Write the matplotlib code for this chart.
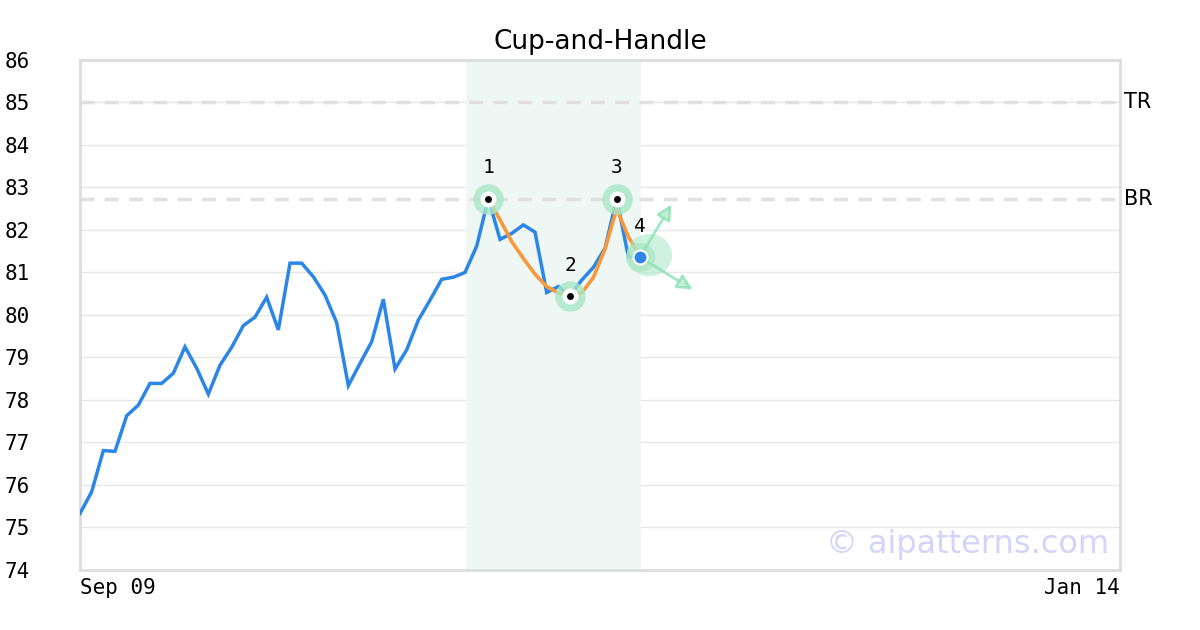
import numpy as np
import matplotlib
matplotlib.use('Agg')
import matplotlib.pyplot as plt
from matplotlib.patches import Ellipse

# daily closes, one per trading session starting Sep 09
closes = [75.33, 75.84, 76.81, 76.79, 77.63, 77.88, 78.39, 78.39, 78.63, 79.25,
          78.75, 78.14, 78.82, 79.24, 79.75, 79.95, 80.42, 79.65, 81.22, 81.22,
          80.90, 80.47, 79.82, 78.34, 78.86, 79.37, 80.37, 78.73, 79.18, 79.88,
          80.35, 80.84, 80.89, 81.00, 81.62, 82.74, 81.78, 81.92, 82.12, 81.95,
          80.53, 80.67, 80.45, 80.82, 81.12, 81.57, 82.74, 81.37, 81.36]

# smoothed cup / handle outline
fit_x = [35, 36, 37, 38, 39, 40, 41, 42, 43, 44, 45, 46, 47, 47.7]
fit_y = [82.74, 82.24, 81.73, 81.33, 80.96, 80.67, 80.52, 80.45, 80.52, 80.88,
         81.55, 82.50, 81.84, 81.53]

pivot_x = [35, 42, 46]
pivot_y = [82.74, 80.45, 82.74]
pivot_labels = ['1', '2', '3']
last_x, last_y = 48, 81.36

top_res = 85.0
breakout = 82.74
pattern_span = (33.1, 48.1)
n_sessions = 89.14
x_tick_labels = ['Sep 09', 'Jan 14']

BLUE = '#2b86e6'
ORANGE = '#f7993a'
HALO = '#a9e7c6'
ARROW = '#8fe3b8'
MONO = 'DejaVu Sans Mono'


def main():
    fig = plt.figure(figsize=(12, 6.3), dpi=100)
    ax = fig.add_axes([80 / 1200, 60 / 630, 1040 / 1200, 510 / 630])

    ax.set_xlim(0, n_sessions)
    ax.set_ylim(74, 86)
    ax.set_yticks(np.arange(74, 87))
    for y in range(75, 86):
        ax.axhline(y, color='#e8e8e8', lw=1, zorder=0)
    ax.axvspan(*pattern_span, color='#eef7f3', zorder=0.5, lw=0)

    for lvl, name in [(top_res, 'TR'), (breakout, 'BR')]:
        ax.axhline(lvl, color='#e0e0e0', lw=2.5, ls=(0, (4, 3)), zorder=1)
        ax.text(1.004, lvl, name, transform=ax.get_yaxis_transform(),
                ha='left', va='center', fontsize=15)

    xs = np.arange(len(closes))
    ax.plot(xs, closes, color=BLUE, lw=2.5, zorder=3, solid_joinstyle='miter')
    ax.plot(fit_x, fit_y, color=ORANGE, lw=2.6, zorder=4)

    ax.plot(pivot_x, pivot_y, 'o', ms=22, color=HALO, alpha=0.8, mew=0, zorder=5)
    ax.plot(pivot_x, pivot_y, 'o', ms=11.5, color='white', mew=0, zorder=6)
    ax.plot(pivot_x, pivot_y, 'o', ms=5, color='black', mew=0, zorder=7)
    for px, py, lab in zip(pivot_x, pivot_y, pivot_labels):
        ax.annotate(lab, (px, py), xytext=(0, 22), textcoords='offset points',
                    ha='center', va='center', fontsize=14, family=MONO)

    # projection from the latest close
    ax.add_patch(Ellipse((last_x + 0.8, last_y + 0.05), 3.9, 1.0, color=HALO,
                         alpha=0.55, lw=0, zorder=5))
    ax.plot([last_x], [last_y], 'o', ms=21, color=HALO, alpha=0.7, mew=0, zorder=5)
    ax.plot([last_x], [last_y], 'o', ms=10, color=BLUE, mec='white', mew=1.5, zorder=8)
    ax.annotate('4', (last_x, last_y), xytext=(0, 22), textcoords='offset points',
                ha='center', va='center', fontsize=14, family=MONO)
    for tx, ty in [(50.7, 82.6), (52.5, 80.6)]:
        ax.annotate('', xy=(tx, ty), xytext=(last_x, last_y),
                    arrowprops=dict(arrowstyle='-|>,head_length=0.9,head_width=0.45',
                                    ec=ARROW, fc='#c4f0d8', alpha=0.85, lw=2,
                                    shrinkA=0, shrinkB=0),
                    zorder=6)

    ax.text(0.99, 0.05, '\u00a9 aipatterns.com', transform=ax.transAxes,
            ha='right', va='center', fontsize=23, color='#d4d4fa', zorder=2)

    ax.set_xticks([0, n_sessions])
    ax.set_xticklabels(x_tick_labels, family=MONO, fontsize=15)
    ax.get_xticklabels()[0].set_ha('left')
    ax.get_xticklabels()[1].set_ha('right')
    ax.tick_params(axis='x', length=0, pad=6)
    ax.tick_params(axis='y', length=0, pad=54, labelsize=15)
    for t in ax.get_yticklabels():
        t.set_family(MONO)
        t.set_ha('left')

    for s in ax.spines.values():
        s.set_color('#dddddd')
        s.set_linewidth(2)
    ax.set_title('Cup-and-Handle', fontsize=19, pad=8)

    fig.savefig('out.png', dpi=100)


if __name__ == '__main__':
    main()
